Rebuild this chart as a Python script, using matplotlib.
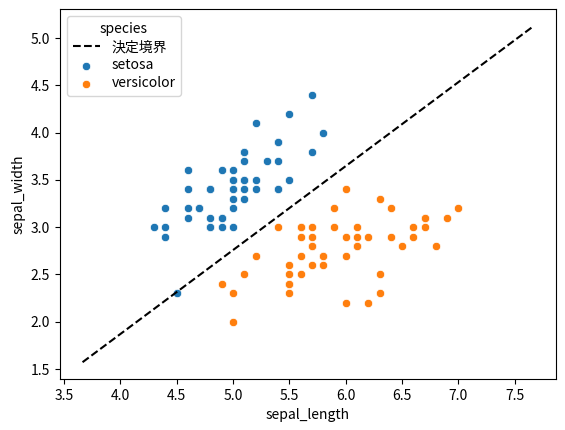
import numpy as np
import matplotlib
matplotlib.use('Agg')
import matplotlib.pyplot as plt

plt.rcParams['font.family'] = ['Noto Sans CJK JP', 'DejaVu Sans']

# setosa (sepal_length, sepal_width)
setosa_len = [5.1, 4.9, 4.7, 4.6, 5.0, 5.4, 4.6, 5.0, 4.4, 4.9,
              5.4, 4.8, 4.8, 4.3, 5.8, 5.7, 5.4, 5.1, 5.7, 5.1,
              5.4, 5.1, 4.6, 5.1, 4.8, 5.0, 5.0, 5.2, 5.2, 4.7,
              4.8, 5.4, 5.2, 5.5, 4.9, 5.0, 5.5, 4.9, 4.4, 5.1,
              5.0, 4.5, 4.4, 5.0, 5.1, 4.8, 5.1, 4.6, 5.3, 5.0]
setosa_wid = [3.5, 3.0, 3.2, 3.1, 3.6, 3.9, 3.4, 3.4, 2.9, 3.1,
              3.7, 3.4, 3.0, 3.0, 4.0, 4.4, 3.9, 3.5, 3.8, 3.8,
              3.4, 3.7, 3.6, 3.3, 3.4, 3.0, 3.4, 3.5, 3.4, 3.2,
              3.1, 3.4, 4.1, 4.2, 3.1, 3.2, 3.5, 3.6, 3.0, 3.4,
              3.5, 2.3, 3.2, 3.5, 3.8, 3.0, 3.8, 3.2, 3.7, 3.3]

# versicolor
versi_len = [7.0, 6.4, 6.9, 5.5, 6.5, 5.7, 6.3, 4.9, 6.6, 5.2,
             5.0, 5.9, 6.0, 6.1, 5.6, 6.7, 5.6, 5.8, 6.2, 5.6,
             5.9, 6.1, 6.3, 6.1, 6.4, 6.6, 6.8, 6.7, 6.0, 5.7,
             5.5, 5.5, 5.8, 6.0, 5.4, 6.0, 6.7, 6.3, 5.6, 5.5,
             5.5, 6.1, 5.8, 5.0, 5.6, 5.7, 5.7, 6.2, 5.1, 5.7]
versi_wid = [3.2, 3.2, 3.1, 2.3, 2.8, 2.8, 3.3, 2.4, 2.9, 2.7,
             2.0, 3.0, 2.2, 2.9, 2.9, 3.1, 3.0, 2.7, 2.2, 2.5,
             3.2, 2.8, 2.5, 2.8, 2.9, 3.0, 2.8, 3.0, 2.9, 2.6,
             2.4, 2.4, 2.7, 2.7, 3.0, 3.4, 3.1, 2.3, 3.0, 2.5,
             2.6, 3.0, 2.6, 2.3, 2.7, 3.0, 2.9, 2.9, 2.5, 2.8]

# decision boundary end points
boundary_x = [3.665, 7.665]
boundary_y = [1.572, 5.125]

fig = plt.figure(figsize=(5.65, 4.30), dpi=100)
ax = fig.add_axes([60 / 565, 51 / 430, 496 / 565, 369.6 / 430])

ax.plot(boundary_x, boundary_y, 'k--', label='決定境界')
ax.scatter(setosa_len, setosa_wid, s=36, color='#1f77b4',
           edgecolor='white', linewidth=0.5, label='setosa')
ax.scatter(versi_len, versi_wid, s=36, color='#ff7f0e',
           edgecolor='white', linewidth=0.5, label='versicolor')

ax.set_xlabel('sepal_length')
ax.set_ylabel('sepal_width')
ax.legend(title='species', loc='upper left', labelspacing=0.3)

fig.savefig('out.png', dpi=100)
